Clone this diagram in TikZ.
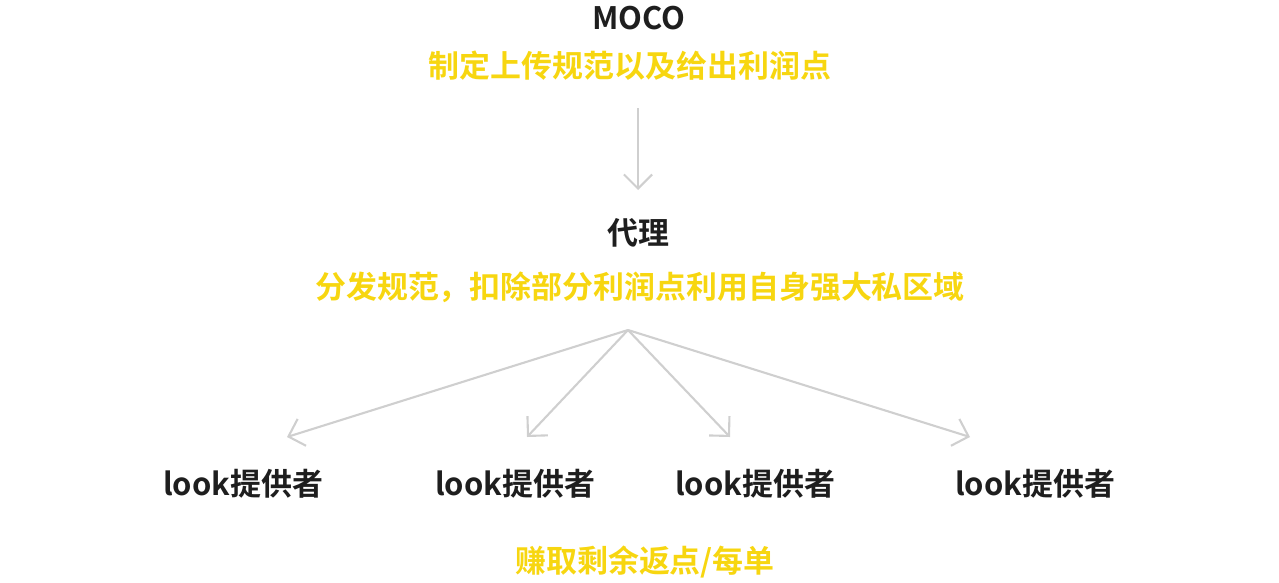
\documentclass[tikz,border=0pt]{standalone}
\usepackage{fontspec}
\setmainfont{Noto Sans CJK SC}[BoldFont={Noto Sans CJK SC Bold}]
\usetikzlibrary{arrows.meta}
\definecolor{hilite}{HTML}{F7D610}
\definecolor{ink}{HTML}{1E1E1E}
\definecolor{wire}{HTML}{CFCFCF}
\tikzset{
  title/.style={font=\bfseries\fontsize{8.8}{10}\selectfont,text=ink,inner sep=0pt},
  note/.style={font=\bfseries\fontsize{8.8}{10}\selectfont,text=hilite,inner sep=0pt},
  link/.style={draw=wire,line width=0.6pt,-{Straight Barb[length=4pt,width=8pt]}}
}
\begin{document}
\begin{tikzpicture}
        \useasboundingbox (0,0) rectangle (12.79,5.82);
        \node[title] (moco) at (6.39,5.64) {MOCO};
        \node[note] (mocoNote) at (6.30,5.16) {制定上传规范以及给出利润点};
        \coordinate (down1) at (6.38,4.74);
        \coordinate (down2) at (6.38,3.92);
        \draw[link] (down1) -- (down2);
        \node[title] (agent) at (6.38,3.49) {代理};
        \node[note] (agentNote) at (6.40,2.95) {分发规范，扣除部分利润点利用自身强大私区域};
        \coordinate (hub) at (6.28,2.52);
        \node[title] (p1) at (2.43,0.98) {look提供者};
        \node[title] (p2) at (5.15,0.98) {look提供者};
        \node[title] (p3) at (7.55,0.98) {look提供者};
        \node[title] (p4) at (10.35,0.98) {look提供者};
        \coordinate (e1) at (2.87,1.45);
        \coordinate (e2) at (5.27,1.45);
        \coordinate (e3) at (7.30,1.45);
        \coordinate (e4) at (9.70,1.45);
        \foreach \t in {e1,e2,e3,e4}
          \draw[link] (hub) -- (\t);
        \node[note] (bottomNote) at (6.45,0.20) {赚取剩余返点/每单};
\end{tikzpicture}
\end{document}
